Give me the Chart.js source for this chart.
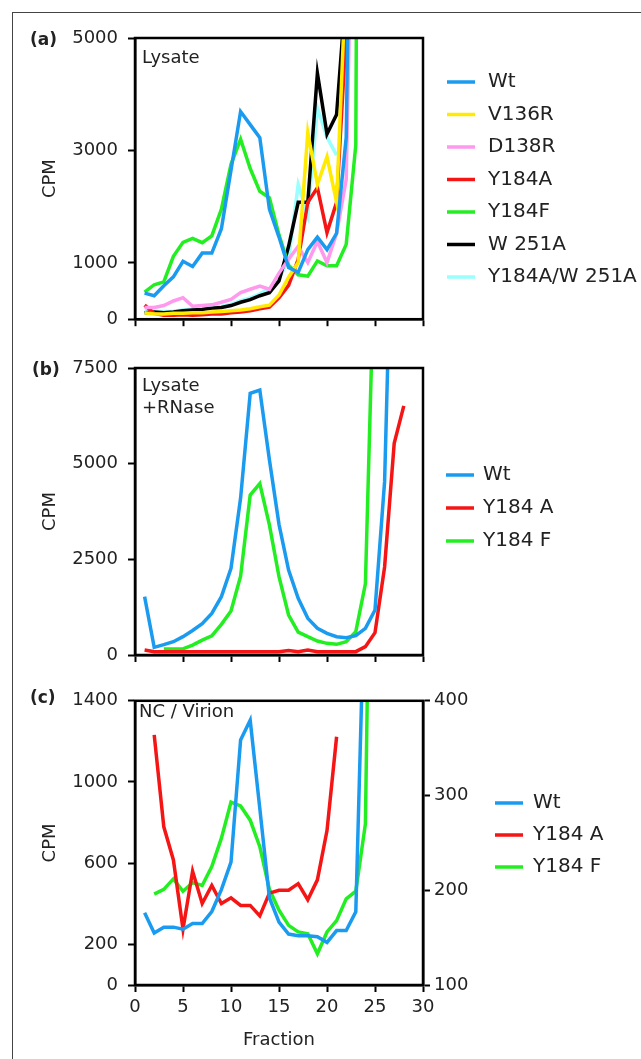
<!DOCTYPE html>
<html>
<head>
<meta charset="utf-8">
<script src="https://cdn.jsdelivr.net/npm/chart.js@4.4.1/dist/chart.umd.min.js"></script>
<style>
  body { margin: 0; background: #fff; }
  #page { position: relative; width: 641px; height: 1059px; overflow: hidden; }
  #frame { position: absolute; left: 12px; top: 12px; width: 640px; height: 1060px;
           border-left: 1px solid #444; border-top: 1px solid #444; }
  canvas { position: absolute; left: 0; }
</style>
</head>
<body>
<div id="page">
  <div id="frame"></div>
  <canvas id="chartA" width="641" height="340" style="top:0"></canvas>
  <canvas id="chartB" width="641" height="340" style="top:340px"></canvas>
  <canvas id="chartC" width="641" height="379" style="top:680px"></canvas>
</div>
<script>
Chart.defaults.font.family = '"DejaVu Sans", sans-serif';
Chart.defaults.font.size = 18;
Chart.defaults.color = '#222';

// ---- (a) Lysate ----
const fracA = [1, 2, 3, 4, 5, 6, 7, 8, 9, 10, 11, 12, 13, 14, 15, 16, 17, 18, 19, 20, 21, 22, 23, 24];
const wtA     = [463, 417, 595, 752, 1030, 938, 1175, 1175, 1609, 2650, 3692, 3460, 3229, 1956, 1460, 920, 833, 1238, 1458, 1238, 1528, 3230, 15000, null];
const v136rA  = [116, 93, 93, 104, 104, 116, 116, 127, 139, 150, 162, 185, 220, 250, 430, 747, 1007, 3322, 2396, 2887, 2078, 6230, 15000, null];
const d138rA  = [208, 208, 243, 324, 382, 231, 243, 255, 301, 353, 475, 532, 590, 532, 820, 1065, 1296, 1007, 1383, 1007, 1528, 2483, 10900, null];
const y184aA  = [249, 104, 69, 69, 81, 69, 81, 93, 93, 116, 127, 150, 185, 215, 380, 602, 1065, 2078, 2338, 1539, 2078, 5100, 12000, null];
const y184fA  = [481, 613, 665, 1117, 1366, 1435, 1360, 1481, 1956, 2755, 3200, 2679, 2274, 2159, 1500, 960, 790, 765, 1036, 950, 950, 1330, 3100, 40000];
const w251aA  = [116, 127, 116, 127, 150, 162, 174, 197, 208, 243, 301, 347, 417, 470, 680, 1296, 2078, 2078, 4375, 3293, 3640, 5900, 15000, null];
const dblA    = [140, 140, 135, 140, 165, 180, 190, 215, 225, 265, 330, 380, 450, 544, 717, 1065, 2396, 1846, 3755, 3234, 2917, null, null, null];
const ticksA  = [0, 1000, 3000, 5000];

// ---- (b) Lysate + RNase ----
const fracB = [1, 2, 3, 4, 5, 6, 7, 8, 9, 10, 11, 12, 13, 14, 15, 16, 17, 18, 19, 20, 21, 22, 23, 24, 25, 26, 27, 28];
const wtB    = [1524, 200, 270, 348, 480, 640, 820, 1089, 1524, 2265, 4100, 6838, 6925, 5100, 3415, 2221, 1481, 958, 697, 566, 479, 453, 505, 697, 1176, 4530, 14000, null];
const y184aB = [130, 87, 87, 87, 87, 87, 87, 87, 87, 87, 87, 87, 87, 87, 87, 120, 87, 131, 87, 87, 87, 87, 87, 218, 583, 2300, 5531, 6510];
const y184fB = [null, null, 157, 157, 160, 260, 390, 500, 800, 1150, 2060, 4181, 4480, 3400, 2047, 1045, 600, 479, 366, 305, 279, 348, 610, 1860, 11000, null, null, null];
const ticksB = [0, 2500, 5000, 7500];

// ---- (c) NC / Virion (Wt on left axis, mutants on right axis) ----
const fracC = [1, 2, 3, 4, 5, 6, 7, 8, 9, 10, 11, 12, 13, 14, 15, 16, 17, 18, 19, 20, 21, 22, 23, 24, 25];
const wtC    = [356, 256, 285, 285, 275, 303, 303, 362, 470, 605, 1207, 1304, 870, 430, 310, 251, 243, 243, 238, 210, 268, 268, 360, 2100, null];
const y184aC = [null, 364, 267, 232, 159, 220, 186, 205, 186, 192, 184, 184, 173, 197, 200, 200, 207, 190, 211, 263, 362, null, null, null, null];
const y184fC = [null, 196, 201, 212, 199, 208, 205, 225, 255, 293, 289, 274, 246, 201, 179, 163, 156, 154, 133, 156, 168, 191, 199, 270, 960];
const ticksC = [0, 200, 600, 1000, 1400];
const ticksC2 = [100, 200, 300, 400];

const colors = {
  wt: '#1a9bf0', v136r: '#ffea00', d138r: '#ff99ee', y184a: '#f51515',
  y184f: '#22ee22', w251a: '#000000', dbl: '#99ffff'
};

function series(label, fracs, vals, color, axis) {
  return {
    label: label,
    data: fracs.map((f, i) => ({ x: f, y: vals[i] })),
    borderColor: color,
    backgroundColor: color,
    borderWidth: 3.5,
    pointRadius: 0,
    tension: 0,
    fill: false,
    yAxisID: axis || 'y'
  };
}

function xAxis(showLabels, height) {
  return {
    type: 'linear', min: 0, max: 30,
    ticks: { stepSize: 5, display: showLabels, padding: 5, color: '#222' },
    grid: { drawOnChartArea: false, tickLength: 7, tickWidth: 2, tickColor: '#000' },
    border: { color: '#000', width: 2.5 },
    title: { display: showLabels, text: 'Fraction', padding: { top: 0, bottom: 8 } },
    afterFit: s => { s.height = height; }
  };
}

function yAxis(min, max, tickValues, pos, width, withTitle) {
  return {
    type: 'linear', position: pos, min: min, max: max,
    afterBuildTicks: s => { s.ticks = tickValues.map(v => ({ value: v })); },
    ticks: { padding: pos === 'left' ? 10 : 4, color: '#222', callback: v => String(v) },
    grid: { drawOnChartArea: false, tickLength: 7, tickWidth: 2, tickColor: '#000' },
    border: { color: '#000', width: 2.5 },
    title: { display: withTitle, text: 'CPM', padding: { top: 40, bottom: 0 } },
    afterFit: s => { s.width = width; }
  };
}

// black box round the plot area
const plotBox = {
  id: 'plotBox',
  afterDatasetsDraw(chart) {
    const { ctx, chartArea: a } = chart;
    ctx.save();
    ctx.strokeStyle = '#000';
    ctx.lineWidth = 2.5;
    ctx.strokeRect(a.left, a.top, a.right - a.left, a.bottom - a.top);
    ctx.restore();
  }
};

// panel letter and inner label
function texts(items) {
  return {
    id: 'panelText',
    afterDraw(chart) {
      const ctx = chart.ctx;
      ctx.save();
      ctx.fillStyle = '#222';
      ctx.textBaseline = 'alphabetic';
      items.forEach(t => {
        ctx.font = t.font;
        ctx.fillText(t.text, t.x, t.y);
      });
      ctx.restore();
    }
  };
}

// legend: short line + label for each dataset
function lineLegend(x, textX, y, step) {
  return {
    id: 'lineLegend',
    afterDraw(chart) {
      const ctx = chart.ctx;
      ctx.save();
      ctx.font = '20px "DejaVu Sans", sans-serif';
      ctx.textBaseline = 'middle';
      chart.data.datasets.forEach((ds, i) => {
        const yy = y + i * step;
        ctx.strokeStyle = ds.borderColor;
        ctx.lineWidth = ds.borderWidth;
        ctx.beginPath();
        ctx.moveTo(x, yy);
        ctx.lineTo(x + 28, yy);
        ctx.stroke();
        ctx.fillStyle = '#222';
        ctx.fillText(ds.label, textX, yy);
      });
      ctx.restore();
    }
  };
}

const bold = 'bold 17px "DejaVu Sans", sans-serif';
const plain = '18px "DejaVu Sans", sans-serif';

new Chart(document.getElementById('chartA'), {
  type: 'line',
  data: {
    datasets: [
      series('Wt', fracA, wtA, colors.wt),
      series('V136R', fracA, v136rA, colors.v136r),
      series('D138R', fracA, d138rA, colors.d138r),
      series('Y184A', fracA, y184aA, colors.y184a),
      series('Y184F', fracA, y184fA, colors.y184f),
      series('W 251A', fracA, w251aA, colors.w251a),
      series('Y184A/W 251A', fracA, dblA, colors.dbl)
    ]
  },
  options: {
    responsive: false,
    animation: false,
    layout: { padding: { top: 38, right: 218, bottom: 0, left: 0 } },
    scales: {
      x: xAxis(false, 14),
      y: yAxis(0, 5000, ticksA, 'left', 135, true)
    },
    plugins: { legend: { display: false }, tooltip: { enabled: false } }
  },
  plugins: [plotBox, lineLegend(447, 488, 82, 32.5), texts([
    { text: '(a)', x: 30, y: 44.5, font: bold },
    { text: 'Lysate', x: 142, y: 63, font: plain }
  ])]
});

new Chart(document.getElementById('chartB'), {
  type: 'line',
  data: {
    datasets: [
      series('Wt', fracB, wtB, colors.wt),
      series('Y184 A', fracB, y184aB, colors.y184a),
      series('Y184 F', fracB, y184fB, colors.y184f)
    ]
  },
  options: {
    responsive: false,
    animation: false,
    layout: { padding: { top: 28, right: 218, bottom: 0, left: 0 } },
    scales: {
      x: xAxis(false, 25),
      y: yAxis(0, 7500, ticksB, 'left', 135, true)
    },
    plugins: { legend: { display: false }, tooltip: { enabled: false } }
  },
  plugins: [plotBox, lineLegend(446, 483, 135, 33), texts([
    { text: '(b)', x: 32, y: 34.5, font: bold },
    { text: 'Lysate', x: 142, y: 50.5, font: plain },
    { text: '+RNase', x: 142, y: 72.5, font: plain }
  ])]
});

new Chart(document.getElementById('chartC'), {
  type: 'line',
  data: {
    datasets: [
      series('Wt', fracC, wtC, colors.wt, 'y'),
      series('Y184 A', fracC, y184aC, colors.y184a, 'y1'),
      series('Y184 F', fracC, y184fC, colors.y184f, 'y1')
    ]
  },
  options: {
    responsive: false,
    animation: false,
    layout: { padding: { top: 17, right: 158, bottom: 0, left: 0 } },
    scales: {
      x: xAxis(true, 74),
      y: yAxis(0, 1400, ticksC, 'left', 135, true),
      y1: yAxis(100, 400, ticksC2, 'right', 60, false)
    },
    plugins: { legend: { display: false }, tooltip: { enabled: false } }
  },
  plugins: [plotBox, lineLegend(495, 533, 123, 32), texts([
    { text: '(c)', x: 30, y: 23, font: bold },
    { text: 'NC / Virion', x: 139, y: 37, font: plain }
  ])]
});
</script>
</body>
</html>
